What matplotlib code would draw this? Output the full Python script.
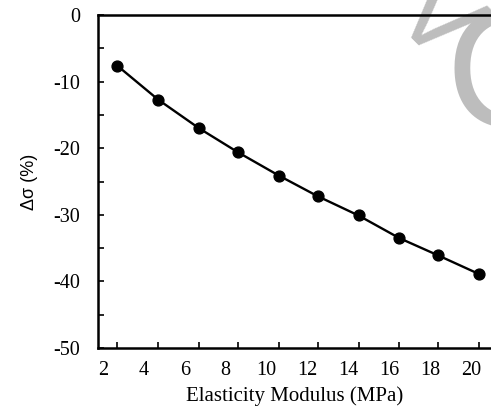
import matplotlib
matplotlib.use("Agg")
import matplotlib.pyplot as plt
from matplotlib.ticker import FixedLocator, MultipleLocator

# values
modulus = [2.7, 4.7, 6.7, 8.6, 10.6, 12.5, 14.5, 16.5, 18.4, 20.4]
delta_sigma = [-7.6, -12.7, -17.0, -20.6, -24.1, -27.2, -30.1, -33.5, -36.1, -38.9]
x_labels = [2, 4, 6, 8, 10, 12, 14, 16, 18, 20]

plt.rcParams['font.family'] = ['Liberation Serif', 'DejaVu Serif']
plt.rcParams['axes.unicode_minus'] = False

fig = plt.figure(figsize=(4.91, 4.15), dpi=100)
ax = fig.add_axes([0.1996, 0.1614, 0.8004, 0.8024])
ax.set_facecolor('none')

ax.plot(modulus, delta_sigma, color='black', lw=1.7, marker='o', ms=7.8,
        mfc='black', mec='black', zorder=3)

ax.set_xlim(1.76, 20.98)
ax.set_ylim(-50, 0)

# labels on the even values, tick marks on the data points
ax.set_xticks(x_labels)
ax.set_xticklabels([str(v) for v in x_labels])
ax.xaxis.set_minor_locator(FixedLocator(modulus))
ax.tick_params(axis='x', which='major', length=0, pad=9, labelsize=14.5)
ax.tick_params(axis='x', which='minor', direction='in', length=4, width=1.2)

ax.yaxis.set_major_locator(MultipleLocator(10))
ax.yaxis.set_minor_locator(MultipleLocator(5))
ax.tick_params(axis='y', which='both', direction='in', length=4.5, width=1.2,
               pad=13, labelsize=14.5)

for side in ['left', 'bottom', 'top']:
    ax.spines[side].set_linewidth(1.8)
ax.spines['right'].set_visible(False)

ax.set_xlabel('Elasticity Modulus (MPa)', fontsize=15, labelpad=5)
ax.set_ylabel('Δσ (%)', fontsize=13, family=['Liberation Sans', 'DejaVu Sans'],
              labelpad=11)

# faint watermark in the upper right corner, behind the axes
fig.text(0.885, 0.95, 'V', fontsize=80, color='#bdbdbd', rotation=-45,
         family='Liberation Sans', ha='center', va='center', zorder=-1)
fig.text(1.03, 0.80, 'C', fontsize=120, color='#bdbdbd',
         family='Liberation Sans', ha='center', va='center', zorder=-1)

fig.savefig('out.png', dpi=100)
